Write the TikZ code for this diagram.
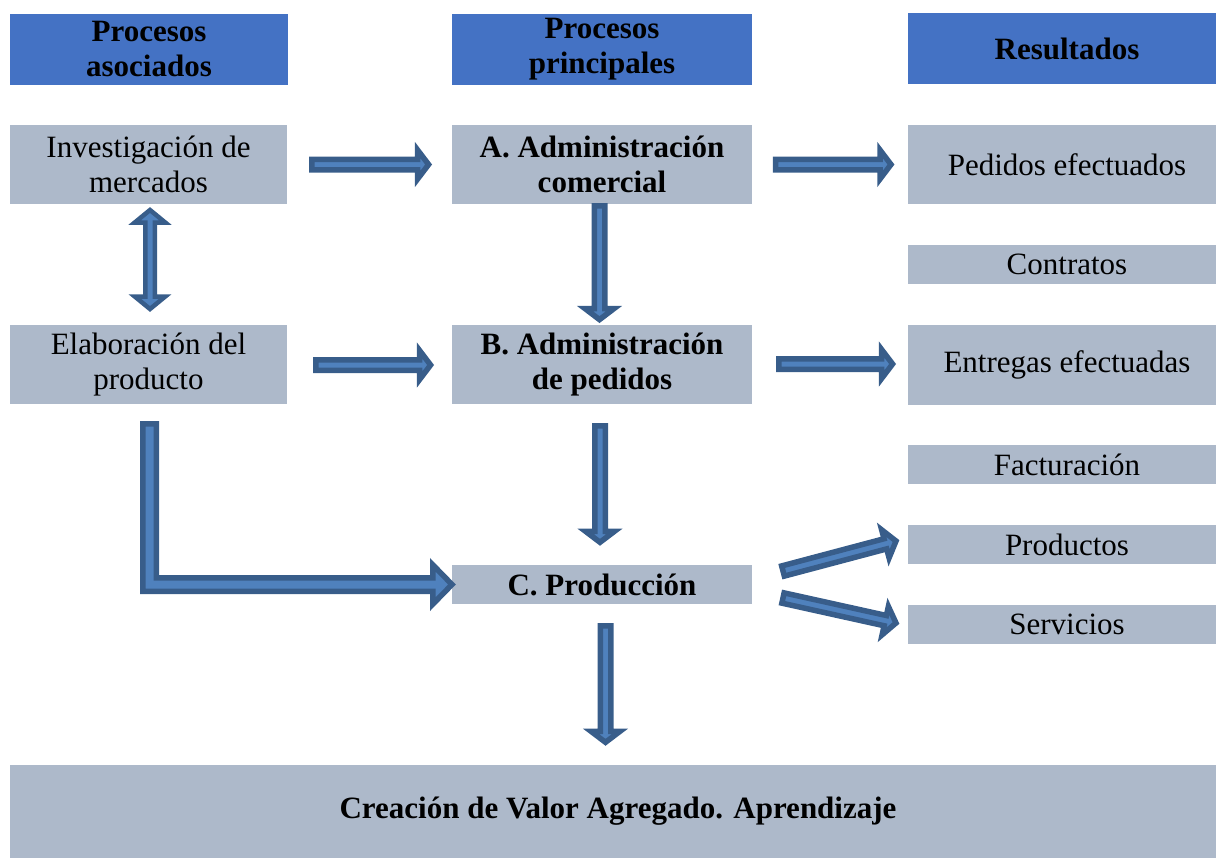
\documentclass[tikz,border=0pt]{standalone}
\usepackage{fontspec}
\setmainfont{Liberation Serif}
\usetikzlibrary{calc}
\definecolor{headc}{HTML}{4472C4}
\definecolor{boxc}{HTML}{ADB9CA}
\definecolor{adark}{HTML}{385D8A}
\definecolor{alight}{HTML}{4F81BD}
\begin{document}
\begin{tikzpicture}[x=1pt,y=-1pt,
  head/.style={fill=headc, inner sep=0pt, align=center, font=\fontsize{31}{35}\selectfont\bfseries},
  box/.style={fill=boxc, inner sep=0pt, align=center, font=\fontsize{31}{35}\selectfont},
  boldbox/.style={box, font=\fontsize{31}{35}\selectfont\bfseries},
  aw/.code={\def\AW{#1}}, ah/.code={\def\AH{#1}}, al/.code={\def\AL{#1}},
  arrowlook/.style={draw=adark, fill=alight, line width=5.5pt, line join=miter, miter limit=10},
  blockarrow/.style={arrowlook, aw=5.25pt, ah=14.5pt, al=11pt,
    to path={
      ($(\tikztostart)!\AW!90:(\tikztotarget)$)
      -- ($($(\tikztotarget)!\AL!(\tikztostart)$)!\AW!90:(\tikztotarget)$)
      -- ($($(\tikztotarget)!\AL!(\tikztostart)$)!\AH!90:(\tikztotarget)$)
      -- (\tikztotarget)
      -- ($($(\tikztotarget)!\AL!(\tikztostart)$)!\AH!-90:(\tikztotarget)$)
      -- ($($(\tikztotarget)!\AL!(\tikztostart)$)!\AW!-90:(\tikztotarget)$)
      -- ($(\tikztostart)!\AW!-90:(\tikztotarget)$)
      -- cycle}},
  dblarrow/.style={arrowlook, line width=4.5pt, aw=4.75pt, ah=15.25pt, al=12.5pt,
    to path={
      (\tikztostart)
      -- ($($(\tikztostart)!\AL!(\tikztotarget)$)!\AH!90:(\tikztotarget)$)
      -- ($($(\tikztostart)!\AL!(\tikztotarget)$)!\AW!90:(\tikztotarget)$)
      -- ($($(\tikztotarget)!\AL!(\tikztostart)$)!\AW!90:(\tikztotarget)$)
      -- ($($(\tikztotarget)!\AL!(\tikztostart)$)!\AH!90:(\tikztotarget)$)
      -- (\tikztotarget)
      -- ($($(\tikztotarget)!\AL!(\tikztostart)$)!\AH!-90:(\tikztotarget)$)
      -- ($($(\tikztotarget)!\AL!(\tikztostart)$)!\AW!-90:(\tikztotarget)$)
      -- ($($(\tikztostart)!\AL!(\tikztotarget)$)!\AW!-90:(\tikztotarget)$)
      -- ($($(\tikztostart)!\AL!(\tikztotarget)$)!\AH!-90:(\tikztotarget)$)
      -- cycle}}
]
\useasboundingbox (0,0) rectangle (1216,860);

% headers
\node[head, minimum width=278, minimum height=71] (h1) at (149,49) {Procesos\\asociados};
\node[head, minimum width=300, minimum height=71] (h2) at (602,49) {Procesos\\principales};
\node[head, minimum width=318, minimum height=71] (h3) at (1067,48.5) {Resultados};

% left column
\node[box, minimum width=277, minimum height=79] (inv) at (148.5,164.5) {Investigación de\\mercados};
\node[box, minimum width=277, minimum height=79] (ela) at (148.5,364.5) {Elaboración del\\producto};

% middle column
\node[boldbox, minimum width=300, minimum height=79] (A) at (602,164.5) {A. Administración\\comercial};
\node[boldbox, minimum width=300, minimum height=79] (B) at (602,364.5) {B. Administración\\de pedidos};
\node[boldbox, minimum width=300, minimum height=39] (C) at (602,584.5) {C. Producción};

% right column
\node[box, minimum width=318, minimum height=79] (ped) at (1067,164.5) {Pedidos efectuados};
\node[box, minimum width=318, minimum height=39] (con) at (1067,264.5) {Contratos};
\node[box, minimum width=318, minimum height=80] (ent) at (1067,365) {Entregas efectuadas};
\node[box, minimum width=318, minimum height=39] (fac) at (1067,464.5) {Facturación};
\node[box, minimum width=318, minimum height=39] (prod) at (1067,544.5) {Productos};
\node[box, minimum width=318, minimum height=39] (serv) at (1067,624.5) {Servicios};

% bottom
\node[boldbox, minimum width=1216, minimum height=93] (val) at (618,811.5) {Creación de Valor Agregado. Aprendizaje};

% arrow end points
\coordinate (invS) at (311.75,164.5);   \coordinate (AW) at (428.6,164.5);
\coordinate (AE) at (775.5,164.5);      \coordinate (pedW) at (891,164.5);
\coordinate (AS) at (599.5,205.75);     \coordinate (BN) at (599.5,319.6);
\coordinate (invB) at (150,210);        \coordinate (elaT) at (150,309);
\coordinate (elaE) at (315.75,365);     \coordinate (BW) at (430.6,365);
\coordinate (BE) at (778.75,364);       \coordinate (entW) at (892.6,364);
\coordinate (BS) at (600,425.75);       \coordinate (CN) at (600,542.3);
\coordinate (CE1) at (783,571);         \coordinate (prodW) at (896,541);
\coordinate (CE2) at (783,598);         \coordinate (servW) at (896,623);
\coordinate (CS) at (605.5,625.75);     \coordinate (valN) at (605.5,742.3);

\draw[blockarrow] (invS) to (AW);
\draw[blockarrow] (AE) to (pedW);
\draw[blockarrow] (AS) to (BN);
\draw[dblarrow] (invB) to (elaT);
\draw[blockarrow] (elaE) to (BW);
\draw[blockarrow] (BE) to (entW);
\draw[blockarrow] (BS) to (CN);
\draw[blockarrow] (CE1) to (prodW);
\draw[blockarrow] (CE2) to (servW);
\draw[blockarrow] (CS) to (valN);

% elbow arrow from Elaboracion to Produccion
\draw[arrowlook] (142.75,423.75) -- (156.25,423.75) -- (156.25,577.75) -- (432.75,577.75)
  -- (432.75,564.75) -- (452,584.5) -- (432.75,604.25) -- (432.75,591.25)
  -- (142.75,591.25) -- cycle;
\end{tikzpicture}
\end{document}
